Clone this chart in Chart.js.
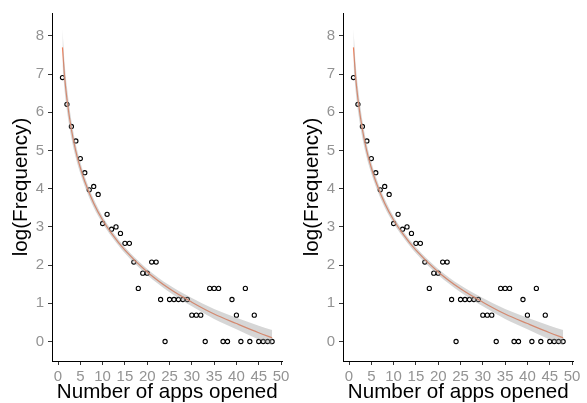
<!DOCTYPE html>
<html>
<head>
<meta charset="utf-8">
<script src="https://cdn.jsdelivr.net/npm/chart.js@4/dist/chart.umd.min.js"></script>
<style>
  body { margin: 0; background: #fff; }
  canvas { position: absolute; top: 0; }
</style>
</head>
<body>
<canvas id="panelIzq" width="293" height="403" style="left:0px"></canvas>
<canvas id="panelDer" width="293" height="403" style="left:291px"></canvas>
<script>
// Datos: apps abiertas (1..48) y log de la frecuencia
const appsAbiertas = [
  1, 2, 3, 4, 5, 6, 7, 8, 9, 10, 11, 12, 13, 14, 15, 16, 17, 18, 19, 20, 21, 22, 23, 24,
  25, 26, 27, 28, 29, 30, 31, 32, 33, 34, 35, 36, 37, 38, 39, 40, 41, 42, 43, 44, 45, 46, 47, 48
];
const logFrecuencia = [
  6.91, 6.21, 5.63, 5.25, 4.79, 4.42, 3.97, 4.06, 3.85, 3.09,
  3.33, 2.94, 3.00, 2.83, 2.57, 2.57, 2.08, 1.39, 1.79, 1.79,
  2.08, 2.08, 1.10, 0.00, 1.10, 1.10, 1.10, 1.10, 1.10, 0.69,
  0.69, 0.69, 0.00, 1.39, 1.39, 1.39, 0.00, 0.00, 1.10, 0.69,
  0.00, 1.39, 0.00, 0.69, 0.00, 0.00, 0.00, 0.00
];

// Curva ajustada y banda de confianza
const ajusteX = [1, 1.5, 2, 3, 4, 5, 6, 8, 10, 12, 15, 20, 25, 30, 35, 40, 45, 48];
const ajusteY = [7.70, 6.90, 6.35, 5.55, 4.98, 4.55, 4.19, 3.62, 3.18, 2.83, 2.39, 1.82, 1.38, 1.03, 0.72, 0.47, 0.23, 0.10];
const bandaAlta = [8.18, 7.26, 6.66, 5.78, 5.16, 4.70, 4.32, 3.73, 3.27, 2.91, 2.47, 1.90, 1.47, 1.14, 0.85, 0.62, 0.41, 0.30];
const bandaBaja = [7.22, 6.54, 6.04, 5.32, 4.80, 4.40, 4.06, 3.51, 3.09, 2.75, 2.31, 1.74, 1.29, 0.92, 0.59, 0.32, 0.05, -0.10];

// Marcas de los ejes
const ticksX = [0, 5, 10, 15, 20, 25, 30, 35, 40, 45, 50];
const ticksY = [0, 1, 2, 3, 4, 5, 6, 7, 8];

Chart.defaults.font.family = "'Liberation Sans', Arial, sans-serif";

const grisTicks = '#939393';

function pares(xs, ys) {
  return xs.map((x, i) => ({ x: x, y: ys[i] }));
}

// Función para crear un panel
function crearPanel(id) {
  const ctx = document.getElementById(id).getContext('2d');

  return new Chart(ctx, {
    type: 'line',
    data: {
      datasets: [
        {
          data: pares(ajusteX, bandaBaja),
          borderWidth: 0,
          pointRadius: 0,
          cubicInterpolationMode: 'monotone',
          fill: false
        },
        {
          data: pares(ajusteX, bandaAlta),
          borderWidth: 0,
          pointRadius: 0,
          cubicInterpolationMode: 'monotone',
          backgroundColor: 'rgba(153,153,153,0.4)',
          fill: '-1'
        },
        {
          data: pares(ajusteX, ajusteY),
          borderColor: '#FA7F55',
          borderWidth: 1.2,
          pointRadius: 0,
          cubicInterpolationMode: 'monotone',
          fill: false
        },
        {
          data: pares(appsAbiertas, logFrecuencia),
          showLine: false,
          pointRadius: 2.1,
          pointBorderWidth: 1.1,
          pointBorderColor: '#000',
          pointBackgroundColor: 'rgba(0,0,0,0)'
        }
      ]
    },
    options: {
      responsive: false,
      animation: false,
      layout: { padding: { top: 10, right: 10.4, left: 0, bottom: 0 } },
      plugins: {
        legend: { display: false },
        tooltip: { enabled: false }
      },
      scales: {
        x: {
          type: 'linear',
          min: -1.35,
          max: 50.35,
          border: { display: true, color: '#000', width: 1 },
          grid: { drawOnChartArea: false, drawTicks: true, tickLength: 4, color: '#333' },
          ticks: { font: { size: 15 }, color: grisTicks, padding: 3, maxRotation: 0 },
          title: {
            display: true,
            text: 'Number of apps opened',
            color: '#000',
            font: { size: 20.6 },
            padding: { top: 0, bottom: -2 }
          },
          afterBuildTicks: s => { s.ticks = ticksX.map(v => ({ value: v })); },
          afterFit: s => { s.height = 42; }
        },
        y: {
          min: -0.51,
          max: 8.6,
          border: { display: true, color: '#000', width: 1 },
          grid: { drawOnChartArea: false, drawTicks: true, tickLength: 4, color: '#333' },
          ticks: { font: { size: 15 }, color: grisTicks, padding: 4 },
          title: {
            display: true,
            text: 'log(Frequency)',
            color: '#000',
            font: { size: 20.6 },
            padding: { top: 9, bottom: 0 }
          },
          afterBuildTicks: s => { s.ticks = ticksY.map(v => ({ value: v })); },
          afterFit: s => { s.width = 52; }
        }
      }
    }
  });
}

// Inicialización: los dos paneles son iguales
crearPanel('panelIzq');
crearPanel('panelDer');
</script>
</body>
</html>
